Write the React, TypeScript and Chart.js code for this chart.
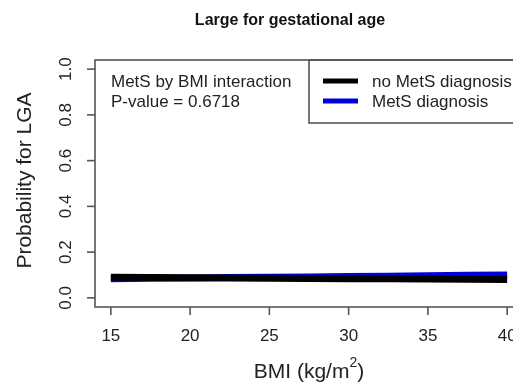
import React, { useEffect, useRef } from "react";
import { Chart, registerables } from "chart.js";

Chart.register(...registerables);

const chartTitle = "Large for gestational age";
const xAxisTitle = "BMI (kg/m";
const yAxisTitle = "Probability for LGA";
const bmi = [15, 20, 25, 30, 35, 40];
const noMetS = [0.09, 0.088, 0.086, 0.084, 0.082, 0.08];
const metS = [0.084, 0.087, 0.09, 0.093, 0.097, 0.1];
const seriesNames = ["no MetS diagnosis", "MetS diagnosis"];
const seriesColors = ["#000000", "#0000dd"];
const xTicks = [15, 20, 25, 30, 35, 40];
const yTicks = [0, 0.2, 0.4, 0.6, 0.8, 1.0];
const yTickLabels = ["0.0", "0.2", "0.4", "0.6", "0.8", "1.0"];
const noteLines = ["MetS by BMI interaction", "P-value = 0.6718"];

const FONT = "'Liberation Sans', Arial, Helvetica, sans-serif";

const rStylePlugin = {
  id: "rStyle",
  afterDraw(chart: any) {
    const ctx = chart.ctx as CanvasRenderingContext2D;
    const area = chart.chartArea;
    const xs = chart.scales.x;
    const ys = chart.scales.y;
    ctx.save();
    // plot box
    ctx.strokeStyle = "#555";
    ctx.lineWidth = 1.6;
    ctx.strokeRect(area.left, area.top, area.right - area.left, area.bottom - area.top);

    // x axis ticks & labels
    ctx.fillStyle = "#222";
    ctx.font = `17px ${FONT}`;
    ctx.textAlign = "center";
    ctx.textBaseline = "middle";
    xTicks.forEach((v) => {
      const px = xs.getPixelForValue(v);
      ctx.beginPath();
      ctx.moveTo(px, area.bottom);
      ctx.lineTo(px, area.bottom + 8);
      ctx.stroke();
      ctx.fillText(String(v), px, 336);
    });
    // y axis ticks & labels
    yTicks.forEach((v, i) => {
      const py = ys.getPixelForValue(v);
      ctx.beginPath();
      ctx.moveTo(area.left, py);
      ctx.lineTo(area.left - 8, py);
      ctx.stroke();
      ctx.save();
      ctx.translate(66, py);
      ctx.rotate(-Math.PI / 2);
      ctx.fillText(yTickLabels[i], 0, 0);
      ctx.restore();
    });

    // axis titles
    const labFont = `21px ${FONT}`;
    const supFont = `14px ${FONT}`;
    ctx.font = labFont;
    const cx = (area.left + area.right) / 2;
    const mainW = ctx.measureText(xAxisTitle).width;
    const closeW = ctx.measureText(")").width;
    ctx.font = supFont;
    const supW = ctx.measureText("2").width;
    const total = mainW + supW + closeW;
    const sx = cx - total / 2;
    ctx.textAlign = "left";
    ctx.font = labFont;
    ctx.fillText(xAxisTitle, sx, 372);
    ctx.font = supFont;
    ctx.fillText("2", sx + mainW, 363);
    ctx.font = labFont;
    ctx.fillText(")", sx + mainW + supW, 372);

    ctx.save();
    ctx.textAlign = "center";
    ctx.translate(25, (area.top + area.bottom) / 2 - 3);
    ctx.rotate(-Math.PI / 2);
    ctx.fillText(yAxisTitle, 0, 0);
    ctx.restore();

    // main title
    ctx.font = `bold 16px ${FONT}`;
    ctx.textAlign = "center";
    ctx.fillStyle = "#111";
    ctx.fillText(chartTitle, 290, 21);

    // note text
    ctx.font = `17px ${FONT}`;
    ctx.textAlign = "left";
    ctx.fillStyle = "#222";
    noteLines.forEach((t, i) => ctx.fillText(t, 111, 82 + i * 20));

    // legend box
    ctx.strokeStyle = "#555";
    ctx.lineWidth = 1.6;
    ctx.strokeRect(309, area.top, 260, 63);
    chart.data.datasets.forEach((ds: any, i: number) => {
      const y = 81 + i * 20;
      ctx.strokeStyle = ds.borderColor;
      ctx.lineWidth = 5;
      ctx.beginPath();
      ctx.moveTo(323, y);
      ctx.lineTo(358, y);
      ctx.stroke();
      ctx.fillStyle = "#222";
      ctx.fillText(ds.label, 372, y + 1);
    });
    ctx.restore();
  },
};

export default function App() {
  const ref = useRef<HTMLCanvasElement | null>(null);
  useEffect(() => {
    if (!ref.current) return;
    const chart = new Chart(ref.current, {
      type: "line",
      data: {
        datasets: [
          {
            label: seriesNames[0],
            data: bmi.map((x, i) => ({ x, y: noMetS[i] })),
            borderColor: seriesColors[0],
            borderWidth: 7,
            pointRadius: 0,
            tension: 0.3,
          },
          {
            label: seriesNames[1],
            data: bmi.map((x, i) => ({ x, y: metS[i] })),
            borderColor: seriesColors[1],
            borderWidth: 7,
            pointRadius: 0,
            tension: 0.3,
          },
        ],
      },
      options: {
        animation: false,
        responsive: false,
        devicePixelRatio: 1,
        layout: { padding: { left: 95, top: 60, right: 17, bottom: 77 } },
        plugins: { legend: { display: false }, tooltip: { enabled: false }, title: { display: false } },
        scales: {
          x: { type: "linear", min: 14, max: 41, display: false },
          y: { type: "linear", min: -0.04, max: 1.04, display: false },
        },
      },
      plugins: [rStylePlugin],
    });
    return () => chart.destroy();
  }, []);
  return (
    <div
      style={{
        position: "fixed",
        left: 0,
        top: 0,
        width: 513,
        height: 384,
        overflow: "hidden",
        background: "#fff",
      }}
    >
      <canvas ref={ref} width={540} height={384} style={{ width: 540, height: 384, display: "block" }} />
    </div>
  );
}
